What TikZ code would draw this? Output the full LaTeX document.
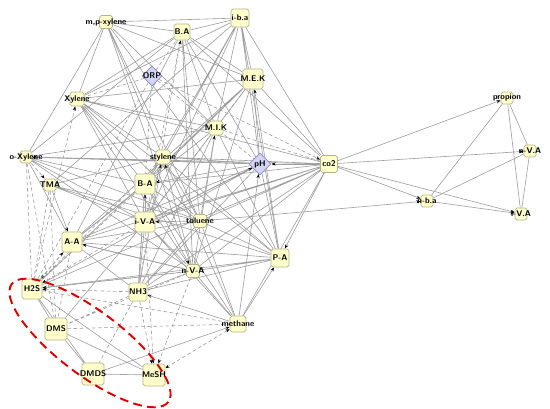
\documentclass[tikz,border=0pt]{standalone}
\usepackage{tikz}
\usetikzlibrary{shapes.geometric,arrows.meta,backgrounds}

\definecolor{boxfill}{HTML}{FFFFCC}
\definecolor{boxline}{HTML}{B4B48C}
\definecolor{paramfill}{HTML}{D4D4F4}
\definecolor{paramline}{HTML}{8C8CC0}

\begin{document}
\begin{tikzpicture}[
    x=0.2mm, y=-0.2mm,
    every node/.style={anchor=center, font=\fontsize{4.7}{5}\selectfont\sffamily\bfseries},
    compound/.style={draw=boxline, fill=boxfill, rounded corners=1pt, inner sep=0pt, minimum size=#1},
    compound/.default=2.8mm,
    param/.style={diamond, draw=paramline, fill=paramfill, inner sep=0pt, minimum size=#1},
    link/.style={draw=black!38, line width=0.35pt},
    dlink/.style={link, dashed, dash pattern=on 2pt off 1.5pt},
    arrow/.style={link, -{Stealth[length=2.4pt, width=1.8pt, black]}},
    darrow/.style={dlink, -{Stealth[length=2.4pt, width=1.8pt, black]}},
    cluster/.style={draw=red!85!black, line width=1.1pt, dash pattern=on 5pt off 3pt}
    ]

\useasboundingbox (0,0) rectangle (550,409);

% Top row
\node[compound=2.6mm] (mpx) at (106,22) {\makebox[0pt]{m,p-xylene}};
\node[compound=3.2mm] (BA1) at (182,32) {\makebox[0pt]{B.A}};
\node[compound=3.6mm] (iba) at (240,18) {\makebox[0pt]{i-b.a}};
\node[param=4mm] (ORP) at (152,76) {\makebox[0pt]{ORP}};
\node[compound=4mm] (MEK) at (253,79) {\makebox[0pt]{M.E.K}};
\node[compound] (Xyl) at (77,99) {\makebox[0pt]{Xylene}};
\node[compound] (MIK) at (216,128) {\makebox[0pt]{M.I.K}};

% Middle
\node[compound=2.4mm] (oXyl) at (26,157) {\makebox[0pt]{o-Xylene}};
\node[compound] (sty) at (163,157) {\makebox[0pt]{stylene}};
\node[param=4.4mm] (pH) at (260,164) {\makebox[0pt]{pH}};
\node[compound=3.4mm] (co2) at (329,164) {\makebox[0pt]{co2}};
\node[compound=2.4mm] (TMA) at (50,185) {\makebox[0pt]{TMA}};
\node[compound=4mm] (BA2) at (145,184) {\makebox[0pt]{B-A}};
\node[compound=2.6mm] (tol) at (200,221) {\makebox[0pt]{toluene}};
\node[compound=4mm] (iVA) at (145,222) {\makebox[0pt]{i-V-A}};
\node[compound=4mm] (AA) at (72,242) {\makebox[0pt]{A-A}};
\node[compound=3.6mm] (PA) at (280,258) {\makebox[0pt]{P-A}};
\node[compound=2.6mm] (nVA) at (193,271) {\makebox[0pt]{n-V-A}};

% Bottom
\node[compound=4mm] (H2S) at (32,289) {\makebox[0pt]{H2S}};
\node[compound=3.6mm] (NH3) at (138,292) {\makebox[0pt]{NH3}};
\node[compound=4.4mm] (DMS) at (56,329) {\makebox[0pt]{DMS}};
\node[compound=3.2mm] (meth) at (238,324) {\makebox[0pt]{methane}};
\node[compound=4.4mm] (DMDS) at (93,374) {\makebox[0pt]{DMDS}};
\node[compound=4.4mm] (MeSH) at (154,375) {\makebox[0pt]{MeSH}};

% Right cluster
\node[compound=2.4mm] (prop) at (507,98) {\makebox[0pt]{propion}};
\node[compound=2.4mm] (nba) at (427,201) {\makebox[0pt]{n-b.a}};
\node[compound=2.4mm] (nVA2) at (530,151) {\makebox[0pt]{n-V.A}};
\node[compound=2.4mm] (iVA2) at (521,214) {\makebox[0pt]{i-V.A}};

\begin{pgfonlayer}{background}
% Solid links
\draw[link] (mpx) -- (iba) (mpx) -- (BA1) (mpx) -- (Xyl) (mpx) -- (oXyl) (mpx) -- (MEK)
    (mpx) -- (sty) (mpx) -- (tol) (mpx) -- (nVA) (mpx) -- (MIK) (mpx) -- (PA);
\draw[link] (BA1) -- (iba) (BA1) -- (Xyl) (BA1) -- (oXyl) (BA1) -- (MEK) (BA1) -- (pH)
    (BA1) -- (co2) (BA1) -- (tol) (BA1) -- (nVA) (BA1) -- (MIK) (BA1) -- (AA);
\draw[link] (iba) -- (Xyl) (iba) -- (MEK) (iba) -- (MIK) (iba) -- (co2) (iba) -- (pH)
    (iba) -- (sty) (iba) -- (BA2) (iba) -- (PA) (iba) -- (TMA) (iba) -- (iVA);
\draw[link] (MEK) -- (Xyl) (MEK) -- (MIK) (MEK) -- (pH) (MEK) -- (BA2) (MEK) -- (AA)
    (MEK) -- (nVA) (MEK) -- (co2) (MEK) -- (H2S);
\draw[link] (Xyl) -- (sty) (Xyl) -- (MIK) (Xyl) -- (BA2) (Xyl) -- (tol) (Xyl) -- (iVA)
    (Xyl) -- (nVA) (Xyl) -- (co2) (Xyl) -- (PA);
\draw[link] (MIK) -- (oXyl) (MIK) -- (BA2) (MIK) -- (iVA) (MIK) -- (NH3) (MIK) -- (nVA)
    (MIK) -- (PA) (MIK) -- (AA);
\draw[link] (oXyl) -- (pH) (oXyl) -- (co2) (oXyl) -- (AA) (oXyl) -- (tol) (oXyl) -- (nVA)
    (oXyl) -- (iVA) (oXyl) -- (BA2);
\draw[link] (sty) -- (co2) (sty) -- (BA2) (sty) -- (NH3) (sty) -- (tol) (sty) -- (TMA)
    (sty) -- (PA) (sty) -- (meth) (sty) -- (pH);
\draw[link] (pH) -- (iVA) (pH) -- (NH3) (pH) -- (AA) (pH) -- (PA) (pH) -- (H2S);
\draw[link] (co2) -- (BA2) (co2) -- (iVA) (co2) -- (AA) (co2) -- (nVA) (co2) -- (NH3)
    (co2) -- (H2S) (co2) -- (tol) (co2) -- (meth);
\draw[link] (TMA) -- (tol) (TMA) -- (PA) (TMA) -- (iVA);
\draw[link] (BA2) -- (NH3) (BA2) -- (AA) (BA2) -- (meth) (BA2) -- (tol);
\draw[link] (tol) -- (AA) (tol) -- (NH3) (tol) -- (PA) (tol) -- (meth);
\draw[link] (iVA) -- (NH3) (iVA) -- (nVA) (iVA) -- (DMS) (iVA) -- (meth);
\draw[link] (AA) -- (NH3) (AA) -- (nVA) (AA) -- (PA);
\draw[link] (PA) -- (NH3) (PA) -- (nVA) (PA) -- (H2S);
\draw[link] (nVA) -- (NH3) (nVA) -- (meth) (nVA) -- (H2S);
\draw[link] (H2S) -- (DMS) (H2S) -- (DMDS) (H2S) -- (MeSH) (DMS) -- (DMDS) (DMS) -- (MeSH)
    (DMDS) -- (MeSH);
\draw[link] (prop) -- (nba) (prop) -- (iVA2) (prop) -- (nVA2) (nVA2) -- (iVA2) (nba) -- (nVA2);

% Solid arrows
\draw[arrow] (co2) -- (prop);
\draw[arrow] (co2) -- (nVA2);
\draw[arrow] (co2) -- (nba);
\draw[arrow] (co2) -- (iVA2);
\draw[arrow] (nba) -- (iVA2);
\draw[arrow] (tol) -- (nba);
\draw[arrow] (co2) -- (pH);
\draw[arrow] (co2) -- (PA);
\draw[arrow] (meth) -- (PA);
\draw[arrow] (meth) -- (NH3);
\draw[arrow] (DMDS) -- (meth);
\draw[arrow] (pH) -- (BA2);
\draw[arrow] (TMA) -- (AA);
\draw[arrow] (iVA) -- (sty);
\draw[arrow] (nVA) -- (sty);
\draw[arrow] (iVA) -- (pH);
\draw[arrow] (meth) -- (pH);
\draw[arrow] (PA) -- (MEK);
\draw[arrow] (tol) -- (MIK);
\draw[arrow] (iVA) -- (BA2);
\draw[arrow] (tol) -- (iVA);
\draw[arrow] (BA2) -- (nVA);
\draw[arrow] (nVA) -- (AA);
\draw[arrow] (pH) -- (oXyl);

% Dashed links
\draw[dlink] (ORP) -- (Xyl) (ORP) -- (H2S) (ORP) -- (NH3) (ORP) -- (pH) (ORP) -- (BA1)
    (oXyl) -- (H2S) (oXyl) -- (DMS) (TMA) -- (H2S) (TMA) -- (DMS) (BA2) -- (H2S)
    (AA) -- (DMS) (nVA) -- (DMS) (H2S) -- (meth) (NH3) -- (DMS) (NH3) -- (DMDS)
    (DMS) -- (meth) (MIK) -- (co2) (sty) -- (H2S) (BA1) -- (iVA) (MEK) -- (iVA);

% Dashed arrows
\draw[darrow] (ORP) -- (co2);
\draw[darrow] (H2S) -- (Xyl);
\draw[darrow] (oXyl) -- (TMA);
\draw[darrow] (AA) -- (H2S);
\draw[darrow] (H2S) -- (AA);
\draw[darrow] (NH3) -- (H2S);
\draw[darrow] (nVA) -- (H2S);
\draw[darrow] (iVA) -- (H2S);
\draw[darrow] (NH3) -- (MeSH);
\draw[darrow] (nVA) -- (MeSH);
\draw[darrow] (iVA) -- (MeSH);
\draw[darrow, {Stealth[length=2.4pt, width=1.8pt, black]}-{Stealth[length=2.4pt, width=1.8pt, black]}] (meth) -- (MeSH);
\draw[darrow] (NH3) -- (BA1);
\end{pgfonlayer}

% Sulfur compound cluster
\begin{scope}[shift={(90,343)}, rotate=-37]
\draw[cluster] (0,0) ellipse (98 and 32);
\end{scope}

\end{tikzpicture}
\end{document}
